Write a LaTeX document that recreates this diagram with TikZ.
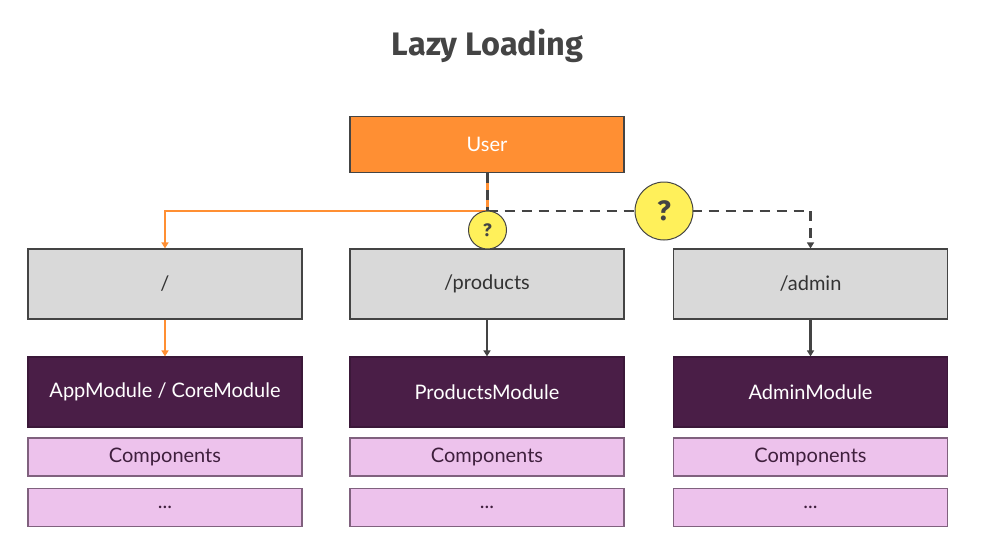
\documentclass[tikz,border=0pt]{standalone}
\usepackage{fontspec}
\setmainfont{Lato}
\newfontfamily\titlefont{Fira Sans}
\usetikzlibrary{arrows.meta}
\definecolor{userorange}{HTML}{FF8F33}
\definecolor{routegray}{HTML}{D9D9D9}
\definecolor{modpurple}{HTML}{4A1E47}
\definecolor{comppink}{HTML}{EDC2EC}
\definecolor{comptext}{HTML}{3F1F3D}
\definecolor{linedark}{HTML}{444444}
\definecolor{qyellow}{HTML}{FFF05A}
\tikzset{
  box/.style={draw=linedark, line width=1.2pt, minimum width=274pt, inner sep=0pt, font=\fontsize{20}{22}\selectfont},
  userbox/.style={box, fill=userorange, text=white, minimum height=56pt},
  routebox/.style={box, fill=routegray, text=black!80, minimum height=70pt},
  modbox/.style={box, draw=modpurple!80!black, fill=modpurple, text=white, minimum height=70pt},
  compbox/.style={box, draw=modpurple!70, fill=comppink, text=comptext, minimum height=38pt},
  qcircle/.style={circle, draw=linedark, line width=1pt, fill=qyellow, text=linedark, inner sep=0pt, font=\titlefont\bfseries},
  orangeline/.style={draw=userorange, line width=2.2pt},
  darkline/.style={draw=linedark, line width=2.2pt},
  dashline/.style={darkline, dash pattern=on 10pt off 7pt},
  tip/.style={-{Triangle[width=7pt,length=6pt]}}
}
\begin{document}
\begin{tikzpicture}[x=1pt,y=-1pt]
\useasboundingbox (0,0) rectangle (982,552);
\node[font=\titlefont\bfseries\fontsize{32.5}{36}\selectfont, text=linedark] (title) at (487.5,46) {Lazy Loading};

\node[userbox] (user) at (487,144.5) {User};

\node[routebox] (r1) at (165,284) {/};
\node[routebox] (r2) at (487,284) {/products};
\node[routebox] (r3) at (810.5,284) {/admin};

\node[modbox] (m1) at (165,392) {AppModule / CoreModule};
\node[modbox] (m2) at (487,392) {ProductsModule};
\node[modbox] (m3) at (810.5,392) {AdminModule};

\node[compbox] (c1) at (165,457) {Components};
\node[compbox] (c2) at (487,457) {Components};
\node[compbox] (c3) at (810.5,457) {Components};

\node[compbox] (d1) at (165,507.5) {...};
\node[compbox] (d2) at (487,507.5) {...};
\node[compbox] (d3) at (810.5,507.5) {...};

\coordinate (junc) at (487.5,211);

% orange path to "/"
\draw[orangeline] (user.south -| junc) -- (junc);
\draw[orangeline, tip] (junc) -| (r1.north);
% dark dashed overlay on stem and path to /admin
\draw[dashline] (user.south -| junc) -- (junc);
\draw[dashline, tip] (junc) -| (r3.north);

% route to module arrows
\draw[orangeline, tip] (r1.south) -- (m1.north);
\draw[darkline, tip] (r2.south) -- (m2.north);
\draw[darkline, tip] (r3.south) -- (m3.north);

% question circles
\node[qcircle, minimum size=38pt, font=\titlefont\bfseries\fontsize{18}{19}\selectfont] (q1) at (487.5,230) {?};
\node[qcircle, minimum size=58pt, font=\titlefont\bfseries\fontsize{28}{30}\selectfont] (q2) at (664,211) {?};
\end{tikzpicture}
\end{document}
